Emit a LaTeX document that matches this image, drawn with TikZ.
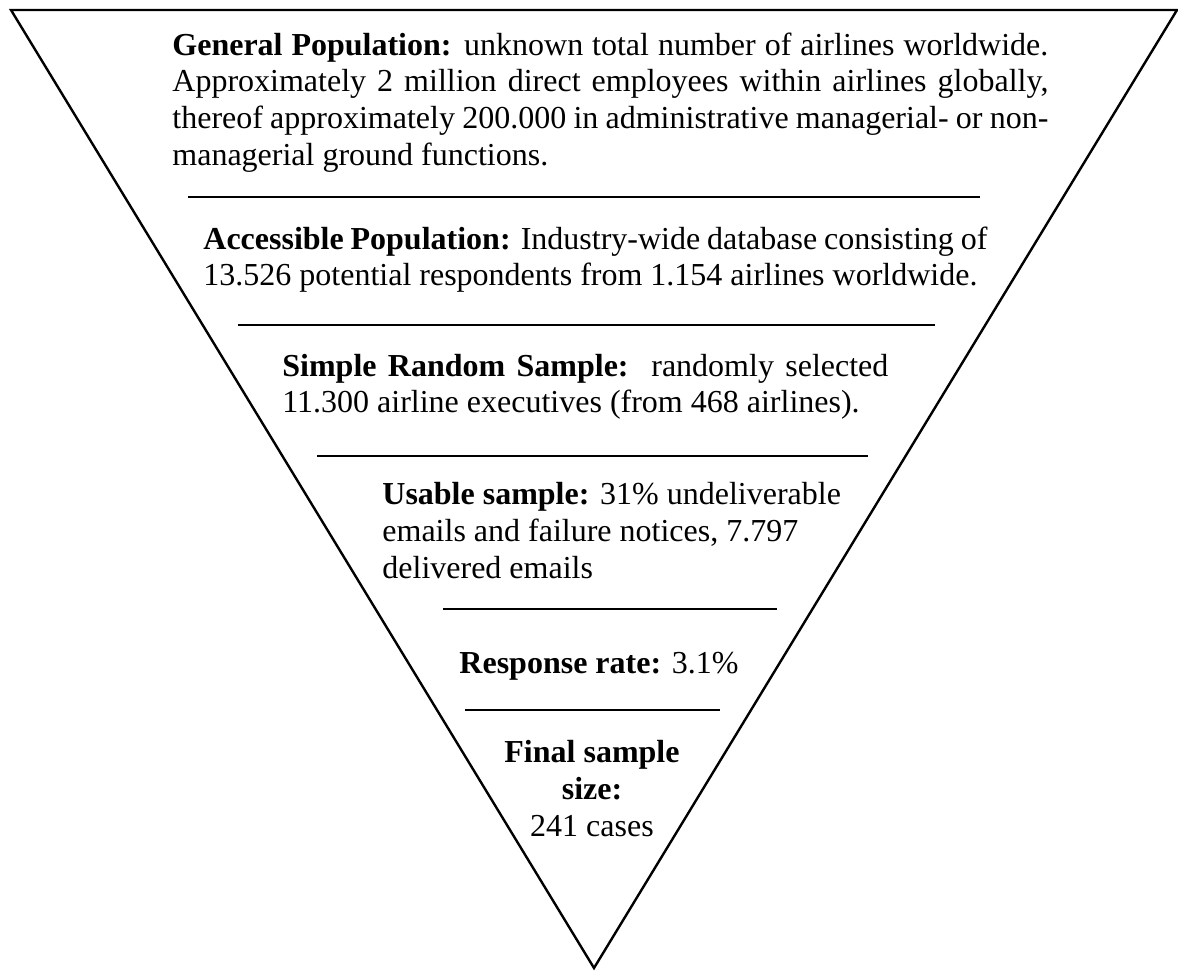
\documentclass[tikz,border=0pt]{standalone}
\usepackage{fontspec}
\setmainfont{Liberation Serif}
\begin{document}
\begin{tikzpicture}[x=0.5pt,y=-0.5pt]
  \tikzstyle{every node}+=[inner sep=0pt, font=\fontsize{16pt}{18.4pt}\selectfont]
  \tikzset{sep/.style={black, line width=1.3pt}}
  \useasboundingbox (0,0) rectangle (1178,970);
  % funnel
  \coordinate (tl) at (11,10);
  \coordinate (tr) at (1177,10);
  \coordinate (apex) at (594,968);
  \draw [black, line width=1.2pt, line join=miter] (tl) -- (tr) -- (apex) -- cycle;
  % stages
  \node (gen) [anchor=base west, text width=438pt, align=justify] at (172,55)
    {\textbf{General Population:} unknown total number of airlines worldwide.\linebreak
     Approximately 2 million direct employees within airlines globally,\linebreak
     thereof approximately 200.000 in administrative managerial- or non-\linebreak
     managerial ground functions.};
  \draw [sep] (188,197) -- (980,197);
  \node (acc) [anchor=base west, text width=392pt, align=justify] at (203,249)
    {\textbf{Accessible Population:} Industry-wide database consisting of\linebreak
     13.526 potential respondents from 1.154 airlines worldwide.};
  \draw [sep] (238,325) -- (935,325);
  \node (rand) [anchor=base west, text width=303pt, align=justify] at (282,376)
    {\textbf{Simple Random Sample:}\ \ randomly selected\linebreak
     11.300 airline executives (from 468 airlines).};
  \draw [sep] (317,456) -- (868,456);
  % base of an aligned node sits on its last line
  \node (usable) [anchor=base west, align=left] at (382,578)
    {\textbf{Usable sample:} 31\% undeliverable\\
     emails and failure notices, 7.797\\
     delivered emails};
  \draw [sep] (443,609) -- (777,609);
  \node (resp) [anchor=base] at (599,673) {\textbf{Response rate:} 3.1\%};
  \draw [sep] (465,710) -- (720,710);
  \node (final) [anchor=base, align=center] at (592,836)
    {\textbf{Final sample}\\ \textbf{size:}\\ 241 cases};
\end{tikzpicture}
\end{document}
